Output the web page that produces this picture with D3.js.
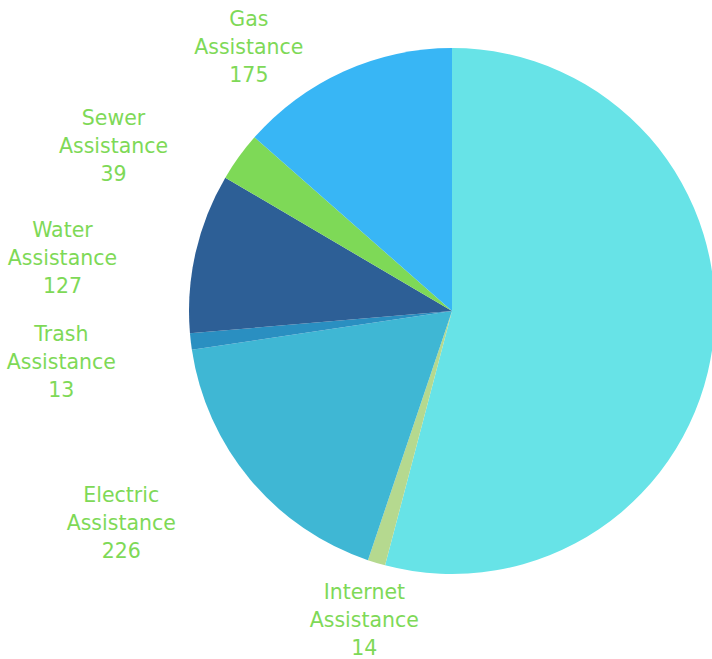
<!DOCTYPE html>
<html>
<head>
<meta charset="utf-8">
<script src="https://cdn.jsdelivr.net/npm/d3@7"></script>
<style>
  html, body { margin: 0; padding: 0; background: #ffffff; }
  svg { display: block; }
</style>
</head>
<body>
<div id="chart"></div>
<script>
// Assistance requests by utility type, drawn clockwise from 12 o'clock
const categories = ["Rent Assistance", "Internet Assistance", "Electric Assistance",
                    "Trash Assistance", "Water Assistance", "Sewer Assistance", "Gas Assistance"];
const values = [700, 14, 226, 13, 127, 39, 175];
const colors = ["#67e3e7", "#b5d98f", "#3fb7d4", "#2a8fc1", "#2d5f96", "#7ed957", "#38b6f5"];
// The largest slice carries no outside label
const labelled = [false, true, true, true, true, true, true];

// Small hand adjustments to keep the outside labels clear of each other
const labelNudge = [[0, 0], [10, -4], [-70, 2], [-53, 13], [-58, 19], [-63, 27], [-63, 34]];

const width = 712, height = 659;
const cx = 452, cy = 311, radius = 263;
const labelRadius = 285, labelBoxW = 110, labelBoxH = 84;
const lineHeight = 28;
const labelColor = "#7ed957";

const svg = d3.select("#chart").append("svg")
  .attr("width", width).attr("height", height);

const g = svg.append("g").attr("transform", `translate(${cx},${cy})`);

const rows = categories.map((c, i) => ({
  name: c, value: values[i], color: colors[i], nudge: labelNudge[i], labelled: labelled[i]
}));

const pie = d3.pie().sort(null).value(d => d.value).startAngle(0).endAngle(2 * Math.PI);
const arcs = pie(rows);
const arc = d3.arc().innerRadius(0).outerRadius(radius);

g.selectAll("path.slice")
  .data(arcs)
  .join("path")
  .attr("class", "slice")
  .attr("d", arc)
  .attr("fill", d => d.data.color);

// Labels: anchor on a ring outside the pie, pushed outward by half the label box
g.selectAll("text.label")
  .data(arcs.filter(d => d.data.labelled))
  .join("text")
  .attr("class", "label")
  .attr("text-anchor", "middle")
  .attr("font-family", "'DejaVu Sans', sans-serif")
  .attr("font-size", 20.5)
  .attr("fill", labelColor)
  .each(function (d) {
    const mid = (d.startAngle + d.endAngle) / 2;
    const s = Math.sin(mid), c = -Math.cos(mid);
    const x = s * labelRadius + s * labelBoxW / 2 + d.data.nudge[0];
    const y = c * labelRadius + c * labelBoxH / 2 + d.data.nudge[1];
    const parts = d.data.name.split(" ");
    const lines = [parts[0], parts.slice(1).join(" "), String(d.data.value)];
    const t = d3.select(this);
    lines.forEach((ln, k) => {
      t.append("tspan")
        .attr("x", x)
        .attr("y", y + (k - 1) * lineHeight + 7)
        .text(ln);
    });
  });
</script>
</body>
</html>
